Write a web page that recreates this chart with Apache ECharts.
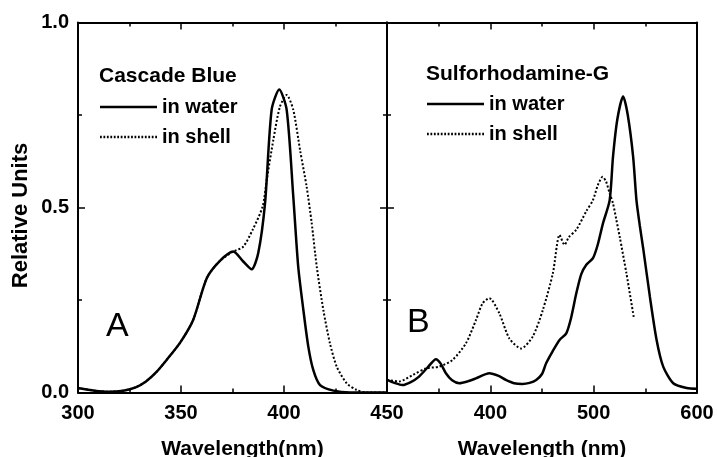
<!DOCTYPE html>
<html>
<head>
<meta charset="utf-8">
<script src="https://cdn.jsdelivr.net/npm/echarts@6/dist/echarts.min.js"></script>
<style>
html,body{margin:0;padding:0;background:#fff;}
#chart{width:718px;height:457px;}
</style>
</head>
<body>
<div id="chart"></div>
<script>
// ---- Data ----
// Panel A: Cascade Blue
const nmA_water = [300, 308, 315, 322, 328, 333, 338, 343, 349.5, 355.9, 362.5, 368.9, 375.4, 380.2, 384.3, 387.5, 390.8, 394, 397.7, 401.3, 404.5, 406.9, 409.4, 411.8, 414.2, 417.5, 424, 432, 450];
const valA_water = [0.012, 0.005, 0.002, 0.005, 0.014, 0.03, 0.055, 0.088, 0.134, 0.196, 0.309, 0.356, 0.381, 0.354, 0.333, 0.377, 0.512, 0.764, 0.819, 0.764, 0.53, 0.34, 0.223, 0.124, 0.061, 0.02, 0.005, 0.0, 0.0];
const nmA_shell = [300, 308, 315, 322, 328, 333, 338, 343, 349.5, 355.9, 362.5, 368.9, 375.4, 380.2, 384.8, 389.6, 391.6, 394.8, 398, 401.3, 404.5, 407.8, 411, 413.4, 415.9, 419.1, 422.3, 425.6, 430.4, 435.2, 440, 450];
const valA_shell = [0.012, 0.005, 0.002, 0.005, 0.014, 0.03, 0.055, 0.088, 0.134, 0.196, 0.309, 0.356, 0.381, 0.394, 0.44, 0.502, 0.574, 0.682, 0.772, 0.804, 0.764, 0.655, 0.556, 0.46, 0.34, 0.223, 0.133, 0.07, 0.025, 0.007, 0.0, 0.0];
// Panel B: Sulforhodamine-G
const nmB_water = [300, 307, 315, 323, 331, 340, 347.3, 352, 357, 363, 370, 378, 386, 399, 408, 415, 423, 431, 438, 444.4, 450, 454, 460, 467, 473.5, 478, 483.2, 488, 492.9, 499.3, 504, 509, 515.5, 518.7, 523, 528.5, 533, 538.2, 541.4, 544.7, 547.9, 554.4, 560.9, 567.3, 577, 590, 600];
const valB_water = [0.034, 0.026, 0.02, 0.028, 0.043, 0.07, 0.09, 0.078, 0.052, 0.033, 0.025, 0.03, 0.038, 0.052, 0.045, 0.034, 0.025, 0.023, 0.026, 0.034, 0.05, 0.079, 0.11, 0.142, 0.16, 0.2, 0.268, 0.32, 0.345, 0.363, 0.4, 0.457, 0.52, 0.637, 0.74, 0.8, 0.75, 0.637, 0.52, 0.45, 0.39, 0.259, 0.142, 0.07, 0.025, 0.012, 0.01];
const nmB_shell = [300, 311.7, 324.6, 337.6, 350.5, 363.4, 376.4, 386.1, 392.5, 399, 408.7, 418.4, 429.8, 441, 450.8, 460.5, 467, 471.8, 476, 483.2, 492.9, 499.3, 504, 508.7, 512, 515.5, 518.7, 522, 525.2, 531.7, 539];
const valB_shell = [0.034, 0.03, 0.047, 0.065, 0.07, 0.088, 0.133, 0.196, 0.241, 0.255, 0.214, 0.146, 0.119, 0.151, 0.223, 0.322, 0.426, 0.399, 0.42, 0.44, 0.49, 0.52, 0.56, 0.583, 0.57, 0.538, 0.511, 0.466, 0.421, 0.322, 0.2];
// Texts / ticks
const panelTitles = ['Cascade Blue', 'Sulforhodamine-G'];
const panelLetters = ['A', 'B'];
const seriesNames = ['in water', 'in shell'];
const yTicks = { min: 0, max: 1, interval: 0.5 };
const xTicksA = { min: 300, max: 450, interval: 50 };
const xTicksB = { min: 300, max: 600, interval: 100 };
const yTitle = 'Relative Units';
const xTitles = ['Wavelength(nm)', 'Wavelength (nm)'];

function zip(xs, ys) { return xs.map((x, i) => [x, ys[i]]); }

const FONT = "'Liberation Sans', Arial, sans-serif";
const BLACK = '#000';
const labelStyle = { color: BLACK, fontFamily: FONT, fontWeight: 'bold', fontSize: 20 };

function xAxis(grid, t, pos, opts) {
  const showLabel = pos === 'bottom';
  return Object.assign({
    type: 'value', gridIndex: grid, position: pos,
    min: t.min, max: t.max, interval: t.interval,
    axisLine: { show: true, onZero: false, lineStyle: { color: BLACK, width: 2 } },
    axisTick: { show: true, inside: true, length: 7, lineStyle: { color: BLACK, width: 1.5 } },
    minorTick: { show: true, splitNumber: 2, length: 4, lineStyle: { color: BLACK, width: 1.5 } },
    splitLine: { show: false }, minorSplitLine: { show: false },
    axisLabel: Object.assign({ show: showLabel, margin: 11, showMinLabel: true, showMaxLabel: true, hideOverlap: false }, labelStyle)
  }, opts || {});
}
function yAxis(grid, pos, withLabel, withTicks) {
  return {
    type: 'value', gridIndex: grid, position: pos,
    min: yTicks.min, max: yTicks.max, interval: yTicks.interval,
    axisLine: { show: true, onZero: false, lineStyle: { color: BLACK, width: 2 } },
    axisTick: { show: withTicks, inside: true, length: 7, lineStyle: { color: BLACK, width: 1.5 } },
    minorTick: { show: withTicks, splitNumber: 2, length: 4, lineStyle: { color: BLACK, width: 1.5 } },
    splitLine: { show: false }, minorSplitLine: { show: false },
    axisLabel: Object.assign({ show: withLabel, margin: 9, formatter: v => v.toFixed(1), showMinLabel: true, showMaxLabel: true }, labelStyle),
    name: withLabel ? yTitle : '',
    nameLocation: 'middle', nameGap: 46,
    nameTextStyle: { color: BLACK, fontFamily: FONT, fontWeight: 'bold', fontSize: 22, padding: [0, 16, 0, 0] }
  };
}

const waterStyle = { color: BLACK, width: 2.5, type: 'solid' };
const shellStyle = { color: BLACK, width: 2, type: [2, 2] };

function lineSeries(name, data, xi, yi, style) {
  return {
    type: 'line', name: name, xAxisIndex: xi, yAxisIndex: yi,
    data: data, smooth: 0.25, symbol: 'none', showSymbol: false,
    lineStyle: style, itemStyle: { color: BLACK }, animation: false, clip: true
  };
}

// legend icons (pure styling): a solid bar and a dotted bar
const ICON_W = 57;
const solidIcon = 'path://M0,0h' + ICON_W + 'v2.5h-' + ICON_W + 'z';
let dotted = '';
for (let x = 0; x < ICON_W; x += 3.5) dotted += 'M' + x + ',0h1.8v2h-1.8z';
const dottedIcon = 'path://' + dotted;

const legendCommon = {
  orient: 'vertical', itemWidth: ICON_W, itemHeight: 2.5, itemGap: 10,
  selectedMode: false, symbolKeepAspect: false,
  textStyle: { color: BLACK, fontFamily: FONT, fontWeight: 'bold', fontSize: 20, lineHeight: 20 },
  data: [{ name: seriesNames[0], icon: solidIcon }, { name: seriesNames[1], icon: dottedIcon }]
};

const option = {
  backgroundColor: '#fff',
  animation: false,
  grid: [
    { left: 78, top: 22.5, width: 309, height: 370, containLabel: false, outerBoundsMode: 'none' },
    { left: 387, top: 22.5, width: 310, height: 370, containLabel: false, outerBoundsMode: 'none' }
  ],
  xAxis: [
    xAxis(0, xTicksA, 'bottom', { name: xTitles[0], nameLocation: 'middle', nameGap: 46,
      nameTextStyle: { color: BLACK, fontFamily: FONT, fontWeight: 'bold', fontSize: 21, padding: [0, 0, 0, 20] } }),
    xAxis(0, xTicksA, 'top'),
    xAxis(1, xTicksB, 'bottom', { name: xTitles[1], nameLocation: 'middle', nameGap: 46,
      nameTextStyle: { color: BLACK, fontFamily: FONT, fontWeight: 'bold', fontSize: 21 },
      axisLabel: Object.assign({ show: true, margin: 11, showMinLabel: true, showMaxLabel: true, formatter: v => v === 300 ? '' : String(v) }, labelStyle) }),
    xAxis(1, xTicksB, 'top')
  ],
  yAxis: [
    yAxis(0, 'left', true, true),
    yAxis(0, 'right', false, true),
    yAxis(1, 'left', false, true),
    yAxis(1, 'right', false, false)
  ],
  title: [
    { text: panelTitles[0], left: 99, top: 66, padding: 0, textStyle: { color: BLACK, fontFamily: FONT, fontWeight: 'bold', fontSize: 21 } },
    { text: panelTitles[1], left: 426, top: 64, padding: 0, textStyle: { color: BLACK, fontFamily: FONT, fontWeight: 'bold', fontSize: 21 } },
    { text: panelLetters[0], left: 106, top: 310, padding: 0, textStyle: { color: BLACK, fontFamily: FONT, fontWeight: 'normal', fontSize: 34 } },
    { text: panelLetters[1], left: 407, top: 306, padding: 0, textStyle: { color: BLACK, fontFamily: FONT, fontWeight: 'normal', fontSize: 34 } }
  ],
  legend: [
    Object.assign({ left: 100, top: 97, padding: 0 }, legendCommon),
    Object.assign({ left: 427, top: 94, padding: 0 }, legendCommon)
  ],
  series: [
    lineSeries(seriesNames[0], zip(nmA_water, valA_water), 0, 0, waterStyle),
    lineSeries(seriesNames[1], zip(nmA_shell, valA_shell), 0, 0, shellStyle),
    lineSeries(seriesNames[0], zip(nmB_water, valB_water), 2, 2, waterStyle),
    lineSeries(seriesNames[1], zip(nmB_shell, valB_shell), 2, 2, shellStyle)
  ]
};

const chart = echarts.init(document.getElementById('chart'), null, { renderer: 'canvas' });
chart.setOption(option);
</script>
</body>
</html>
